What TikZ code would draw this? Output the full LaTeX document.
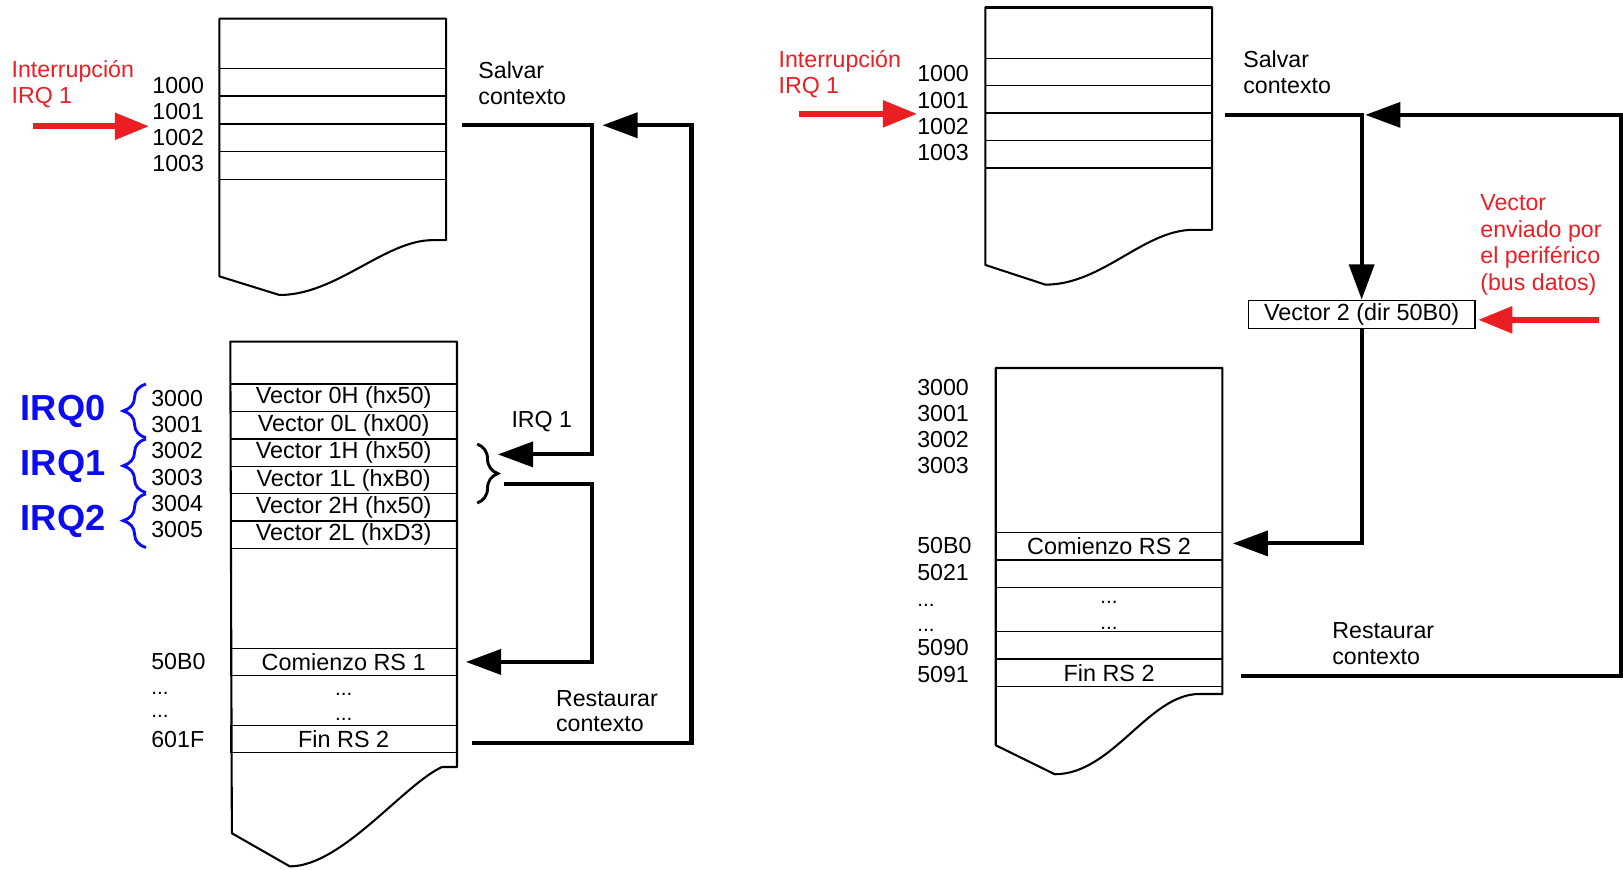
\documentclass[tikz,border=0pt]{standalone}
\usepackage{fontspec}
\setmainfont{Liberation Sans}
\usetikzlibrary{arrows.meta,positioning,decorations.pathreplacing}
\definecolor{irqrojo}{RGB}{235,30,36}
\definecolor{irqazul}{RGB}{12,12,240}

\tikzset{
  mem/.style={line width=2pt,line join=round},
  fila/.style={draw,line width=1.2pt,minimum width=219pt,minimum height=26.6pt,inner sep=0pt,font=\fontsize{22.6}{24}\selectfont},
  dir/.style={anchor=west,inner sep=0pt,align=left,font=\fontsize{22.4}{25}\selectfont},
  rojotxt/.style={dir,text=irqrojo},
  puntos/.style={anchor=base,inner sep=0pt,font=\fontsize{20}{24}\selectfont},
  flecha/.style={line width=4pt,-{Triangle[length=34pt,width=24pt]}},
  roja/.style={draw=irqrojo,fill=irqrojo,line width=5.5pt,-{Triangle[length=33pt,width=25pt]}},
  irq/.style={anchor=west,inner sep=0pt,text=irqazul,font=\fontsize{35}{36}\selectfont\bfseries},
  llaveazul/.style={irqazul,line width=2.8pt,decorate,decoration={brace,amplitude=22pt}},
}

\begin{document}
\begin{tikzpicture}[x=1pt,y=-1pt]
\useasboundingbox (0,0) rectangle (1568,840);

% ---- esquema izquierdo : tabla de vectores ----
% pila
\draw[mem] (212,267) -- (212,18) -- (431,18) -- (431,232) -- (418,232) .. controls (372,232) and (325,285) .. (270,285) -- cycle;
\foreach \i in {0,...,3}{
  \node[fila] (pilaA-\i) at (321.5,79.5+26.8*\i) {};
  \node[dir] (dirA-\i) at (147,83+25*\i) {\pgfmathparse{int(1000+\i)}\pgfmathresult};
}
\node[rojotxt] (intA) at (11,81.5) {Interrupción\\IRQ 1};
\coordinate (origA) at (32,122);
\coordinate (entA) at (144,122);
\draw[roja] (origA) -- (entA);
\node[dir] (salvA) at (462,80) {Salvar\\contexto};

% memoria
\draw[mem] (224,805) -- (222.5,330) -- (441.5,330) -- (441.5,741) -- (427,741) .. controls (390,758) and (330,837) .. (280,837) -- cycle;
\foreach \i/\txt in {0/Vector 0H (hx50),1/Vector 0L (hx00),2/Vector 1H (hx50),3/Vector 1L (hxB0),4/Vector 2H (hx50),5/Vector 2L (hxD3)}{
  \node[fila] (vecA-\i) at (332,384.25+26.5*\i) {\txt};
  \node[dir] (dirA3-\i) at (146,385+25.3*\i) {\pgfmathparse{int(3000+\i)}\pgfmathresult};
}
\foreach \i in {0,1,2}{
  \node[irq] (irq\i) at (20,397.5+53*\i) {IRQ\i};
  \draw[llaveazul] (141,423+53*\i) -- (141,371+53*\i);
}
\node[fila] (rsA) at (332,639.5) {Comienzo RS 1};
\node[fila] (finA) at (332,714) {Fin RS 2};
\node[puntos] (ptsA-1) at (332,672) {...};
\node[puntos] (ptsA-2) at (332,696.5) {...};
\node[dir] (dirA50) at (146,639) {50B0};
\node[puntos,anchor=base west] (ptsDA-1) at (146,671) {...};
\node[puntos,anchor=base west] (ptsDA-2) at (146,693.5) {...};
\node[dir] (dirA60) at (146,714) {601F};

% llave de IRQ 1
\draw[line width=2.8pt,decorate,decoration={brace,amplitude=20pt}] (461,429) -- (461,486);
\node[dir] (irqA) at (494,407) {IRQ 1};
\node[dir] (restA) at (537,687) {Restaurar\\contexto};

% conexiones
\coordinate (salA) at (446,121);
\coordinate (llaveIn) at (481,439);
\coordinate (llaveOut) at (487,468);
\coordinate (restIn) at (456,718);
\coordinate (retA) at (582,121);
\draw[flecha] (salA) -| (572,300) |- (llaveIn);
\draw[flecha] (llaveOut) -| (572,550) |- ([xshift=8pt]rsA.east);
\draw[flecha] (restIn) -| (668,400) |- (retA);

% ---- esquema derecho : vector por bus de datos ----
\draw[mem] (952,256) -- (952,7) -- (1171,7) -- (1171,222) -- (1153,222) .. controls (1105,222) and (1065,275) .. (1010,275) -- cycle;
\draw[line width=3pt] (952,7) -- (1171,7);
\foreach \i in {0,...,3}{
  \node[fila] (pilaB-\i) at (1061.5,69.5+26.5*\i) {};
  \node[dir] (dirB-\i) at (886,71.5+25.4*\i) {\pgfmathparse{int(1000+\i)}\pgfmathresult};
}
\node[rojotxt] (intB) at (752,72) {Interrupción\\IRQ 1};
\coordinate (origB) at (772,110);
\coordinate (entB) at (886,110);
\draw[roja] (origB) -- (entB);
\node[dir] (salvB) at (1201,69.6) {Salvar\\contexto};

\node[draw,line width=1.2pt,minimum width=219pt,minimum height=27pt,inner sep=0pt,font=\fontsize{22.6}{24}\selectfont] (vec2) at (1315.5,303.5) {Vector 2 (dir 50B0)};
\node[rojotxt,font=\fontsize{22.4}{25.7}\selectfont] (perif) at (1430,236.5) {Vector\\enviado por\\el periférico\\(bus datos)};
\coordinate (origP) at (1545,309);
\coordinate (entP) at (1428,309);
\draw[roja] (origP) -- (entP);

% memoria
\draw[mem] (962,720) -- (962,355.5) -- (1181,355.5) -- (1181,670.5) -- (1159,670.5) .. controls (1110,670) and (1075,748) .. (1019,748) -- cycle;
\node[fila] (rsB) at (1071.5,527.8) {Comienzo RS 2};
\node[fila] (filaB-1) at (1071.5,554.3) {};
\node[fila] (filaB-2) at (1071.5,623.1) {};
\node[fila] (finB) at (1071.5,650) {Fin RS 2};
\node[puntos] (ptsB-1) at (1071.5,583) {...};
\node[puntos] (ptsB-2) at (1071.5,608.5) {...};
\foreach \i in {0,...,3}
  \node[dir] (dirB3-\i) at (886,374+25.4*\i) {\pgfmathparse{int(3000+\i)}\pgfmathresult};
\node[dir] (dirB50) at (886,527) {50B0};
\node[dir] (dirB5021) at (886,553) {5021};
\node[puntos,anchor=base west] (ptsDB-1) at (886,586) {...};
\node[puntos,anchor=base west] (ptsDB-2) at (886,610) {...};
\node[dir] (dirB5090) at (886,626) {5090};
\node[dir] (dirB5091) at (886,652) {5091};
\node[dir] (restB) at (1287,622) {Restaurar\\contexto};

% conexiones
\coordinate (salB) at (1183,111);
\coordinate (restOut) at (1199,653);
\coordinate (retB) at (1319,111);
\coordinate (rsBIn) at (1191,525);
\draw[flecha] (salB) -| (vec2.north);
\draw[flecha] (restOut) -- (1566,653) -- (1566,111) -- (retB);
\draw[flecha] (vec2.south) |- (rsBIn);
\end{tikzpicture}
\end{document}
